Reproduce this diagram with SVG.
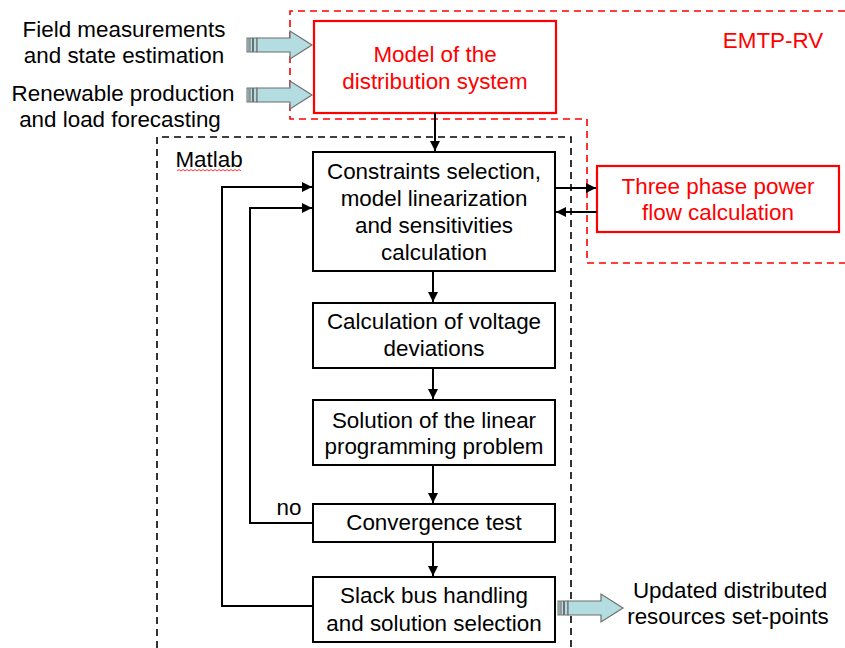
<svg xmlns="http://www.w3.org/2000/svg" width="845" height="648" viewBox="0 0 845 648">
<defs>
<style>
text{font-family:"Liberation Sans",Arial,sans-serif;font-size:22.4px;fill:#000;text-anchor:middle}
.red{fill:#f00}
.box{fill:#fff;stroke:#000;stroke-width:2}
.rbox{fill:#fff;stroke:#f00;stroke-width:2.2}
.dash{fill:none;stroke:#000;stroke-width:1.6;stroke-dasharray:7,5}
.rdash{fill:none;stroke:#f00;stroke-width:1.6;stroke-dasharray:7,5}
.ln{fill:none;stroke:#000;stroke-width:2}
.barrow{fill:#b3dde0;stroke:#6f6f6f;stroke-width:1.2}
.stripe{fill:#b3dde0;stroke:#6f6f6f;stroke-width:1}
</style>
<marker id="ah" viewBox="0 0 10 10" refX="10" refY="5" markerWidth="5" markerHeight="5" orient="auto" markerUnits="strokeWidth">
<path d="M0,0 L10,5 L0,10 z" fill="#000"/>
</marker>
<g id="blockarrow">
<rect class="stripe" x="0" y="-7" width="2" height="14"/>
<rect class="stripe" x="3" y="-7" width="2.5" height="14"/>
<rect class="stripe" x="6.5" y="-7" width="3.5" height="14"/>
<path class="barrow" d="M10,-7 H43 V-14 L65,0 L43,14 V7 H10 z"/>
</g>
</defs>

<g id="emtp-region">
<path class="rdash" d="M845,11 H290 V119 H587 V263 H845"/>
<text class="red" x="773" y="48">EMTP-RV</text>
</g>

<g id="matlab-region">
<path class="dash" d="M157,648 V137 H571 V648"/>
<text x="209" y="167">Matlab</text>
<path d="M177,171 l2,-1.5 l2,1.5 l2,-1.5 l2,1.5 l2,-1.5 l2,1.5 l2,-1.5 l2,1.5 l2,-1.5 l2,1.5 l2,-1.5 l2,1.5 l2,-1.5 l2,1.5 l2,-1.5 l2,1.5 l2,-1.5 l2,1.5 l2,-1.5 l2,1.5 l2,-1.5 l2,1.5 l2,-1.5 l2,1.5 l2,-1.5 l2,1.5 l2,-1.5 l2,1.5 l2,-1.5 l2,1.5 l2,-1.5 l2,1.5" fill="none" stroke="#f00" stroke-width="0.8"/>
</g>

<g id="input-field">
<text x="124" y="37">Field measurements</text>
<text x="124" y="63">and state estimation</text>
<use href="#blockarrow" x="247" y="45"/>
</g>

<g id="input-renewable">
<text x="123" y="101">Renewable production</text>
<text x="120" y="127">and load forecasting</text>
<use href="#blockarrow" x="247" y="95"/>
</g>

<g id="model">
<rect class="rbox" x="314" y="21" width="242" height="92"/>
<text class="red" x="435" y="62">Model of the</text>
<text class="red" x="435" y="89">distribution system</text>
</g>

<g id="constraints">
<rect class="box" x="313" y="152" width="242" height="119"/>
<text x="434" y="179">Constraints selection,</text>
<text x="434" y="206">model linearization</text>
<text x="434" y="233">and sensitivities</text>
<text x="434" y="260">calculation</text>
</g>

<g id="threephase">
<rect class="rbox" x="597" y="166" width="242" height="66"/>
<text class="red" x="718" y="194">Three phase power</text>
<text class="red" x="718" y="220">flow calculation</text>
</g>

<g id="calculation">
<rect class="box" x="313" y="303" width="242" height="65"/>
<text x="434" y="329">Calculation of voltage</text>
<text x="434" y="356">deviations</text>
</g>

<g id="solution">
<rect class="box" x="313" y="400" width="242" height="65"/>
<text x="434" y="428">Solution of the linear</text>
<text x="434" y="454">programming problem</text>
</g>

<g id="convergence">
<rect class="box" x="313" y="504" width="242" height="38"/>
<text x="434" y="530">Convergence test</text>
</g>

<g id="slack">
<rect class="box" x="313" y="577" width="242" height="65"/>
<text x="434" y="603">Slack bus handling</text>
<text x="434" y="631">and solution selection</text>
</g>

<g id="output">
<use href="#blockarrow" x="558" y="608"/>
<text x="730" y="598">Updated distributed</text>
<text x="728" y="624">resources set-points</text>
</g>

<g id="connectors">
<line class="ln" x1="435" y1="113" x2="435" y2="151" marker-end="url(#ah)"/>
<line class="ln" x1="555" y1="188" x2="596" y2="188" marker-end="url(#ah)"/>
<line class="ln" x1="597" y1="212" x2="556" y2="212" marker-end="url(#ah)"/>
<line class="ln" x1="433" y1="271" x2="433" y2="302" marker-end="url(#ah)"/>
<line class="ln" x1="433" y1="368" x2="433" y2="399" marker-end="url(#ah)"/>
<line class="ln" x1="433" y1="465" x2="433" y2="503" marker-end="url(#ah)"/>
<line class="ln" x1="433" y1="542" x2="433" y2="576" marker-end="url(#ah)"/>
<path class="ln" d="M313,523 H250 V208 H312" marker-end="url(#ah)"/>
<path class="ln" d="M313,606 H222 V187 H312" marker-end="url(#ah)"/>
<text x="289" y="515">no</text>
</g>
</svg>
